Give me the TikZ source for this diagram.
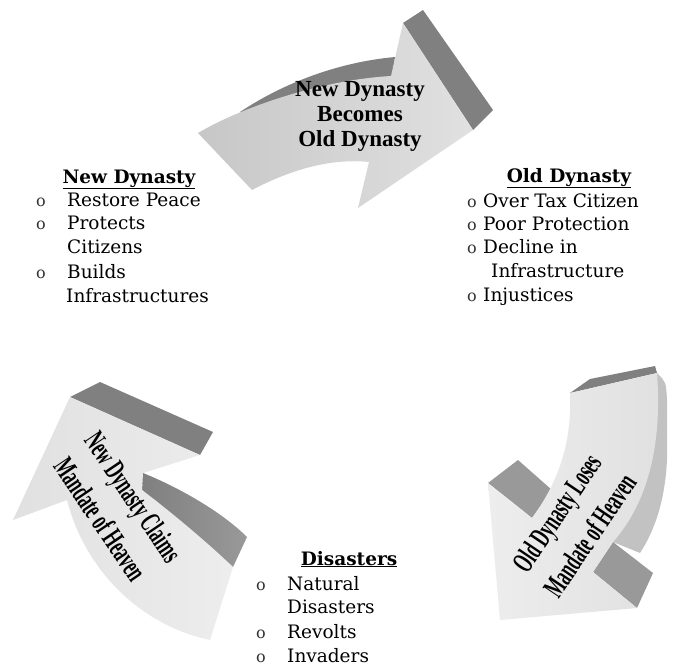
\documentclass[tikz,border=0pt]{standalone}
\usepackage{fontspec}
\setmainfont{DejaVu Serif}
\newfontfamily\arrowfont{Liberation Serif}
\definecolor{darkside}{gray}{0.50}
\definecolor{midside}{gray}{0.60}
\definecolor{lightside}{gray}{0.76}
\definecolor{faceA}{gray}{0.78}
\definecolor{faceB}{gray}{0.88}
\definecolor{faceC}{gray}{0.93}
\begin{document}
\begin{tikzpicture}[x=1pt,y=-1pt,
  item/.style={anchor=base west,inner sep=0pt,font=\fontsize{18.5}{24}\selectfont},
  headline/.style={anchor=base,inner sep=0pt,font=\bfseries\fontsize{18.5}{24}\selectfont},
  bul/.style={anchor=base,inner sep=0pt,font=\fontsize{16}{16}\selectfont,text=black!80},
  arrowlbl/.style={align=center,inner sep=0pt,font=\arrowfont\bfseries\fontsize{23}{25}\selectfont},
  rotlbl/.style={align=center,inner sep=0pt,font=\arrowfont\bfseries\fontsize{30}{40}\selectfont},
]
\useasboundingbox (0,0) rectangle (676,667);
\fill[white] (0,0) rectangle (676,667);

% ---------- top arrow ----------
\fill[darkside] (240,112) .. controls (285,82) and (340,62) .. (395,57) -- (391,82) -- (250,120) -- cycle;
\fill[darkside] (403,23) -- (423,10) -- (493,110) -- (473,130) -- cycle;
\shade[left color=faceA,right color=faceB] (198,133) .. controls (240,108) and (320,80) .. (391,76)
  -- (403,23) -- (473,130) -- (358,208) -- (369,162)
  .. controls (330,158) and (290,170) .. (252,190) -- cycle;
\node (toplbl) [arrowlbl] at (360,116) {New Dynasty\\Becomes\\Old Dynasty};

% ---------- left arrow ----------
\fill[darkside] (70,397) -- (100,382) -- (213,432) -- (200,455) -- cycle;
\shade[left color=darkside,right color=midside] (143,473) .. controls (185,490) and (225,515) .. (247,537) -- (233,567) -- (142,490) -- cycle;
\shade[shading angle=30,left color=faceB,right color=faceC] (70,397) -- (200,455) -- (143,473) -- (142,490)
  .. controls (175,515) and (210,545) .. (233,567) -- (210,640)
  .. controls (140,625) and (85,570) .. (67,500) -- (13,520) -- cycle;
\node (leftlbl) [rotlbl,rotate=-56] at (117,508) {\scalebox{0.56}[1]{New Dynasty Claims}\\\scalebox{0.56}[1]{Mandate of Heaven}};

% ---------- right arrow ----------
\fill[lightside] (657,373) .. controls (666,382) .. (667,400) -- (667,460) .. controls (665,500) and (655,530) .. (640,553) -- (613,542) -- cycle;
\fill[darkside] (570,393) -- (590,379) -- (655,366) -- (657,373) -- cycle;
\fill[midside] (488,483) -- (518,460) -- (552,490) -- (532,518) -- cycle;
\fill[midside] (593,572) -- (613,542) -- (653,573) -- (637,608) -- cycle;
\shade[left color=faceC,right color=faceB] (570,393) -- (657,373) .. controls (662,440) and (650,500) .. (613,542)
  -- (593,572) -- (637,608) -- (500,620) -- (488,483) -- (532,518)
  .. controls (560,480) and (572,440) .. (570,393) -- cycle;
\node (rightlbl) [rotlbl,rotate=56] at (573,524) {\scalebox{0.56}[1]{Old Dynasty Loses}\\\scalebox{0.56}[1]{Mandate of Heaven}};

% ---------- New Dynasty list ----------
\node (nd) [headline] at (129,183) {\underline{New Dynasty}};
\node (ndb1) [bul] at (41,206) {o};
\node (nd1) [item] at (67,206) {Restore Peace};
\node (ndb2) [bul] at (41,229) {o};
\node (nd2) [item] at (67,229) {Protects};
\node (nd2b) [item] at (67,253) {Citizens};
\node (ndb3) [bul] at (41,278) {o};
\node (nd3) [item] at (67,278) {Builds};
\node (nd3b) [item] at (66,302) {Infrastructures};

% ---------- Old Dynasty list ----------
\node (od) [headline] at (569,182) {\underline{Old Dynasty}};
\node (odb1) [bul] at (472,207) {o};
\node (od1) [item] at (483,207) {Over Tax Citizen};
\node (odb2) [bul] at (472,230) {o};
\node (od2) [item] at (483,230) {Poor Protection};
\node (odb3) [bul] at (472,253) {o};
\node (od3) [item] at (483,253) {Decline in};
\node (od3b) [item] at (491,277) {Infrastructure};
\node (odb4) [bul] at (472,301) {o};
\node (od4) [item] at (483,301) {Injustices};

% ---------- Disasters list ----------
\node (ds) [headline] at (349,565) {\underline{Disasters}};
\node (dsb1) [bul] at (261,590) {o};
\node (ds1) [item] at (287,590) {Natural};
\node (ds1b) [item] at (287,613) {Disasters};
\node (dsb2) [bul] at (261,638) {o};
\node (ds2) [item] at (287,638) {Revolts};
\node (dsb3) [bul] at (261,662) {o};
\node (ds3) [item] at (287,662) {Invaders};
\end{tikzpicture}
\end{document}
